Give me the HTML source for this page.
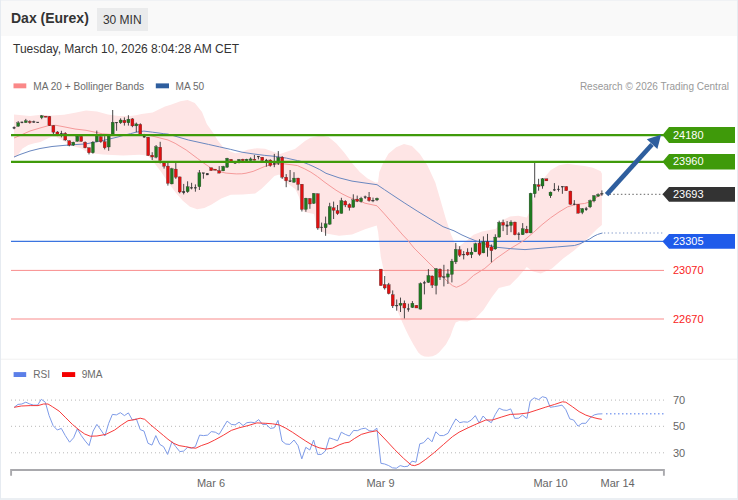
<!DOCTYPE html>
<html><head><meta charset="utf-8"><title>Dax (Eurex)</title>
<style>
html,body{margin:0;padding:0;background:#fff;}
body{width:738px;height:500px;overflow:hidden;position:relative;font-family:"Liberation Sans",sans-serif;}
#frame{position:absolute;left:0;top:0;width:738px;height:500px;box-sizing:border-box;border-left:1px solid #e6ebf1;border-right:1px solid #e6ebf1;border-bottom:2px solid #ebeff3;}
#hdr{position:absolute;left:0;top:0;width:738px;height:36px;background:#f9f9f9;box-sizing:border-box;border-top:1px solid #f0f2f5;}
#title{position:absolute;left:11px;top:10.4px;font-size:14px;font-weight:bold;color:#333;white-space:nowrap;}
#badge{position:absolute;left:97px;top:7.5px;width:50.5px;height:23px;background:#eaebec;color:#333;font-size:12px;line-height:24px;text-align:center;}
#date{position:absolute;left:13px;top:42px;font-size:12px;color:#333;white-space:nowrap;}
svg{position:absolute;left:0;top:0;}
text{font-family:"Liberation Sans",sans-serif;}
</style></head><body>
<div id="hdr"></div>
<div id="frame"></div>
<div id="title">Dax (Eurex)</div>
<div id="badge">30 MIN</div>
<div id="date">Tuesday, March 10, 2026 8:04:28 AM CET</div>
<svg width="738" height="500" viewBox="0 0 738 500">

<rect x="13.5" y="83.4" width="12.8" height="4.9" fill="#fa8888"/>
<text x="33.3" y="90" font-size="10.1" fill="#6b6b6b">MA 20 + Bollinger Bands</text>
<rect x="155.8" y="83.4" width="13.2" height="4.9" fill="#2e5e9e"/>
<text x="175.6" y="90" font-size="10.1" fill="#6b6b6b">MA 50</text>
<text x="729" y="90" font-size="10" fill="#999" text-anchor="end">Research © 2026 Trading Central</text>
<polygon points="14.0,114.4 30.0,116.0 41.0,114.8 52.0,115.5 64.0,114.8 75.0,112.8 86.0,110.6 97.0,111.4 108.0,114.4 119.0,116.1 130.0,116.1 136.0,115.2 141.5,113.9 152.7,112.6 158.8,109.6 165.0,106.5 170.8,104.8 180.4,101.2 187.6,100.0 194.8,102.9 202.0,112.0 206.8,124.0 213.6,133.6 217.6,140.3 223.0,147.1 229.8,151.2 235.2,153.2 240.7,152.5 247.4,149.8 256.9,148.2 265.0,148.7 273.2,151.8 280.0,153.9 286.7,151.8 294.9,149.1 300.0,145.0 305.0,141.0 310.4,137.7 320.8,135.6 328.6,136.9 336.4,143.4 344.2,152.5 352.0,162.9 359.8,172.0 367.6,178.5 375.4,182.4 378.0,182.4 379.3,172.0 383.2,162.9 388.4,153.8 396.2,147.3 404.0,143.9 411.9,146.0 419.7,153.8 427.5,165.5 435.3,182.4 440.0,198.4 445.6,218.0 451.2,234.8 455.4,244.6 459.6,246.0 465.2,241.8 473.6,234.8 482.0,231.5 496.0,228.7 501.6,220.8 510.0,216.6 518.4,215.8 526.8,217.5 529.5,212.0 533.5,197.5 542.0,180.5 550.5,170.3 559.0,165.2 567.5,163.8 576.0,164.9 584.5,166.1 593.0,167.8 600.7,171.2 601.9,173.7 601.9,225.0 596.8,229.2 585.6,240.4 574.4,250.2 563.2,258.6 552.0,268.4 540.8,273.5 532.4,271.2 526.8,267.0 518.4,276.8 510.0,285.2 498.8,288.0 491.6,297.6 483.5,310.0 475.4,318.5 467.3,321.5 459.2,321.0 455.7,322.4 453.3,328.1 450.4,336.3 445.9,344.4 439.0,352.5 436.0,354.8 432.5,356.3 428.5,356.8 424.4,356.5 421.0,355.0 418.3,352.5 413.4,344.4 408.9,336.3 405.6,329.5 402.4,322.4 394.3,303.0 386.2,281.4 380.8,257.0 378.1,232.0 376.7,225.4 365.0,229.3 352.0,234.5 339.0,235.8 326.0,233.5 320.9,231.0 316.5,226.0 314.0,214.0 309.0,213.0 304.0,212.0 301.5,207.0 299.0,197.0 295.3,189.0 288.9,184.5 284.0,180.8 281.6,176.8 279.2,174.4 274.4,176.0 268.0,182.4 261.6,188.8 255.2,193.6 242.8,194.4 230.8,194.8 221.2,198.4 211.6,204.4 204.4,208.0 197.2,209.2 190.0,206.8 182.8,200.8 175.6,192.4 168.4,182.8 161.2,172.0 154.0,162.4 147.5,155.6 139.4,154.8 123.0,155.6 102.5,154.6 92.0,153.3 86.0,151.3 81.0,148.3 76.0,147.0 70.0,145.0 66.0,142.5 60.0,139.0 56.0,137.0 51.5,136.8 46.6,139.0 40.5,142.0 34.4,143.2 28.3,145.0 22.2,148.7 17.3,156.0 14.0,158.0" fill="#fee5e5"/>
<line x1="11" y1="270.4" x2="664" y2="270.4" stroke="#f98c8c" stroke-width="1"/>
<line x1="11" y1="319" x2="664" y2="319" stroke="#f98c8c" stroke-width="1.2"/>
<line x1="11" y1="241.4" x2="664" y2="241.4" stroke="#3b74e0" stroke-width="1.1"/>
<polyline points="14.0,138.0 20.0,135.5 30.0,131.0 40.0,128.0 49.0,125.5 56.0,125.3 65.0,127.0 75.0,129.0 86.0,130.3 97.0,132.6 102.7,133.9 120.0,135.0 150.0,135.5 154.9,136.7 168.0,140.0 175.1,143.3 186.2,150.0 197.3,158.3 204.0,163.3 210.7,167.8 219.6,171.7 226.2,173.1 236.2,173.9 241.8,173.8 246.0,173.2 253.1,171.4 264.2,166.7 269.8,165.0 277.0,164.0 284.2,163.9 292.0,164.8 297.6,165.6 300.0,166.8 304.2,168.6 310.9,172.2 317.6,176.7 324.0,181.7 330.0,186.0 336.0,190.2 342.0,193.8 348.0,196.8 354.0,199.2 360.0,201.0 365.0,203.2 377.0,205.8 384.4,213.9 395.6,226.7 402.8,235.0 407.6,240.0 414.0,248.0 422.0,256.0 430.0,264.0 438.0,272.0 446.0,280.0 452.4,285.6 456.4,287.3 460.4,285.6 466.0,282.4 473.6,275.4 484.8,268.4 496.0,258.6 510.0,248.8 524.0,240.4 533.5,232.4 542.0,224.7 550.5,217.9 559.0,212.0 567.5,206.9 576.0,204.3 584.5,203.5 593.0,200.9 597.0,197.0 601.9,194.5" fill="none" stroke="#f59a9a" stroke-width="1"/>
<polyline points="14.0,157.0 20.0,154.5 30.0,151.0 40.0,148.5 52.0,146.5 65.0,145.3 75.0,144.6 86.0,143.9 97.0,141.7 108.0,139.4 119.0,136.7 124.9,135.0 130.4,133.7 136.0,132.2 141.6,131.4 143.8,131.1 152.7,132.2 163.8,133.7 168.0,134.1 178.0,137.0 188.4,140.0 208.4,144.4 219.6,146.9 230.7,149.4 242.0,152.2 253.1,153.9 264.2,155.3 275.3,156.4 286.4,158.1 297.6,160.6 300.0,161.1 308.7,164.4 313.0,166.3 319.8,169.6 326.0,173.3 339.0,177.8 352.0,181.1 365.0,183.0 377.0,184.7 384.4,189.6 391.1,194.1 404.1,202.7 417.1,211.0 430.1,218.9 443.1,226.7 454.0,230.8 462.0,235.0 469.0,238.1 476.0,240.9 482.0,243.0 490.0,245.5 497.0,247.3 511.0,248.7 525.0,249.6 538.0,248.5 557.6,246.9 574.4,245.5 580.0,243.8 585.6,241.0 589.6,239.0 594.0,236.2 597.5,234.5 601.0,233.4 602.5,233.0" fill="none" stroke="#6a88c0" stroke-width="1"/>
<line x1="14.1" y1="126.4" x2="14.1" y2="129.2" stroke="#333" stroke-width="0.9"/>
<rect x="12.90" y="127.3" width="2.4" height="1.0" fill="#333" stroke="#333" stroke-width="0.3"/>
<line x1="18.2" y1="121.1" x2="18.2" y2="126.7" stroke="#333" stroke-width="0.9"/>
<rect x="16.70" y="122.8" width="3.0" height="3.5" fill="#1f7a1f" stroke="#333" stroke-width="0.3"/>
<line x1="22.0" y1="121.4" x2="22.0" y2="123.3" stroke="#333" stroke-width="0.9"/>
<rect x="20.80" y="122.0" width="2.4" height="0.8" fill="#333" stroke="#333" stroke-width="0.3"/>
<line x1="25.8" y1="118.9" x2="25.8" y2="122.8" stroke="#333" stroke-width="0.9"/>
<rect x="24.30" y="120.8" width="3.0" height="1.8" fill="#1f7a1f" stroke="#333" stroke-width="0.3"/>
<line x1="29.8" y1="120.3" x2="29.8" y2="123.7" stroke="#333" stroke-width="0.9"/>
<rect x="28.30" y="121.4" width="3.0" height="1.2" fill="#e01010" stroke="#333" stroke-width="0.3"/>
<line x1="33.8" y1="120.6" x2="33.8" y2="122.8" stroke="#333" stroke-width="0.9"/>
<rect x="32.60" y="121.6" width="2.4" height="0.8" fill="#333" stroke="#333" stroke-width="0.3"/>
<line x1="37.7" y1="122.0" x2="37.7" y2="122.8" stroke="#333" stroke-width="0.9"/>
<rect x="36.50" y="122.0" width="2.4" height="0.8" fill="#333" stroke="#333" stroke-width="0.3"/>
<line x1="41.7" y1="115.0" x2="41.7" y2="119.2" stroke="#333" stroke-width="0.9"/>
<rect x="40.20" y="115.8" width="3.0" height="1.8" fill="#1f7a1f" stroke="#333" stroke-width="0.3"/>
<line x1="45.6" y1="116.1" x2="45.6" y2="117.2" stroke="#333" stroke-width="0.9"/>
<rect x="44.10" y="116.1" width="3.0" height="1.1" fill="#e01010" stroke="#333" stroke-width="0.3"/>
<line x1="49.4" y1="116.0" x2="49.4" y2="126.0" stroke="#333" stroke-width="0.9"/>
<rect x="47.90" y="116.4" width="3.0" height="9.2" fill="#e01010" stroke="#333" stroke-width="0.3"/>
<line x1="53.4" y1="125.2" x2="53.4" y2="134.1" stroke="#333" stroke-width="0.9"/>
<rect x="51.90" y="125.6" width="3.0" height="6.6" fill="#e01010" stroke="#333" stroke-width="0.3"/>
<line x1="57.4" y1="131.1" x2="57.4" y2="136.1" stroke="#333" stroke-width="0.9"/>
<rect x="55.90" y="132.0" width="3.0" height="2.1" fill="#e01010" stroke="#333" stroke-width="0.3"/>
<line x1="61.4" y1="130.8" x2="61.4" y2="137.4" stroke="#333" stroke-width="0.9"/>
<rect x="60.20" y="133.3" width="2.4" height="1.5" fill="#333" stroke="#333" stroke-width="0.3"/>
<line x1="65.3" y1="132.2" x2="65.3" y2="140.8" stroke="#333" stroke-width="0.9"/>
<rect x="63.80" y="133.3" width="3.0" height="6.7" fill="#e01010" stroke="#333" stroke-width="0.3"/>
<line x1="69.3" y1="140.3" x2="69.3" y2="146.3" stroke="#333" stroke-width="0.9"/>
<rect x="67.80" y="140.8" width="3.0" height="4.4" fill="#e01010" stroke="#333" stroke-width="0.3"/>
<line x1="73.3" y1="141.7" x2="73.3" y2="145.9" stroke="#333" stroke-width="0.9"/>
<rect x="71.80" y="142.2" width="3.0" height="3.0" fill="#1f7a1f" stroke="#333" stroke-width="0.3"/>
<line x1="77.3" y1="136.1" x2="77.3" y2="141.6" stroke="#333" stroke-width="0.9"/>
<rect x="75.80" y="136.1" width="3.0" height="5.3" fill="#1f7a1f" stroke="#333" stroke-width="0.3"/>
<line x1="81.2" y1="136.0" x2="81.2" y2="141.6" stroke="#333" stroke-width="0.9"/>
<rect x="79.70" y="136.3" width="3.0" height="5.1" fill="#e01010" stroke="#333" stroke-width="0.3"/>
<line x1="85.1" y1="141.4" x2="85.1" y2="148.3" stroke="#333" stroke-width="0.9"/>
<rect x="83.60" y="142.2" width="3.0" height="5.6" fill="#e01010" stroke="#333" stroke-width="0.3"/>
<line x1="89.0" y1="147.4" x2="89.0" y2="154.4" stroke="#333" stroke-width="0.9"/>
<rect x="87.50" y="147.8" width="3.0" height="5.0" fill="#e01010" stroke="#333" stroke-width="0.3"/>
<line x1="92.9" y1="141.1" x2="92.9" y2="153.7" stroke="#333" stroke-width="0.9"/>
<rect x="91.40" y="142.2" width="3.0" height="10.6" fill="#1f7a1f" stroke="#333" stroke-width="0.3"/>
<line x1="96.8" y1="130.6" x2="96.8" y2="142.2" stroke="#333" stroke-width="0.9"/>
<rect x="95.30" y="136.1" width="3.0" height="5.6" fill="#1f7a1f" stroke="#333" stroke-width="0.3"/>
<line x1="100.8" y1="136.1" x2="100.8" y2="142.8" stroke="#333" stroke-width="0.9"/>
<rect x="99.30" y="136.7" width="3.0" height="5.0" fill="#e01010" stroke="#333" stroke-width="0.3"/>
<line x1="104.7" y1="136.1" x2="104.7" y2="149.4" stroke="#333" stroke-width="0.9"/>
<rect x="103.20" y="141.7" width="3.0" height="6.1" fill="#e01010" stroke="#333" stroke-width="0.3"/>
<line x1="108.7" y1="135.6" x2="108.7" y2="150.8" stroke="#333" stroke-width="0.9"/>
<rect x="107.20" y="136.1" width="3.0" height="10.9" fill="#1f7a1f" stroke="#333" stroke-width="0.3"/>
<line x1="112.7" y1="110.0" x2="112.7" y2="134.1" stroke="#333" stroke-width="0.9"/>
<rect x="111.20" y="122.2" width="3.0" height="11.9" fill="#1f7a1f" stroke="#333" stroke-width="0.3"/>
<line x1="116.6" y1="122.2" x2="116.6" y2="130.8" stroke="#333" stroke-width="0.9"/>
<rect x="115.40" y="122.2" width="2.4" height="0.8" fill="#333" stroke="#333" stroke-width="0.3"/>
<line x1="120.6" y1="118.3" x2="120.6" y2="123.9" stroke="#333" stroke-width="0.9"/>
<rect x="119.10" y="120.0" width="3.0" height="2.8" fill="#1f7a1f" stroke="#333" stroke-width="0.3"/>
<line x1="124.4" y1="117.4" x2="124.4" y2="125.6" stroke="#333" stroke-width="0.9"/>
<rect x="122.90" y="120.3" width="3.0" height="2.5" fill="#e01010" stroke="#333" stroke-width="0.3"/>
<line x1="128.4" y1="115.2" x2="128.4" y2="125.6" stroke="#333" stroke-width="0.9"/>
<rect x="126.90" y="119.2" width="3.0" height="3.6" fill="#1f7a1f" stroke="#333" stroke-width="0.3"/>
<line x1="132.4" y1="118.1" x2="132.4" y2="127.2" stroke="#333" stroke-width="0.9"/>
<rect x="130.90" y="118.9" width="3.0" height="7.0" fill="#e01010" stroke="#333" stroke-width="0.3"/>
<line x1="136.3" y1="122.6" x2="136.3" y2="132.2" stroke="#333" stroke-width="0.9"/>
<rect x="134.80" y="123.9" width="3.0" height="2.0" fill="#1f7a1f" stroke="#333" stroke-width="0.3"/>
<line x1="140.3" y1="123.3" x2="140.3" y2="135.0" stroke="#333" stroke-width="0.9"/>
<rect x="138.80" y="124.4" width="3.0" height="9.7" fill="#e01010" stroke="#333" stroke-width="0.3"/>
<line x1="144.2" y1="133.9" x2="144.2" y2="137.8" stroke="#333" stroke-width="0.9"/>
<rect x="143.00" y="136.0" width="2.4" height="1.2" fill="#333" stroke="#333" stroke-width="0.3"/>
<line x1="148.2" y1="137.0" x2="148.2" y2="155.8" stroke="#333" stroke-width="0.9"/>
<rect x="146.70" y="137.2" width="3.0" height="18.4" fill="#e01010" stroke="#333" stroke-width="0.3"/>
<line x1="152.2" y1="152.2" x2="152.2" y2="160.0" stroke="#333" stroke-width="0.9"/>
<rect x="150.70" y="155.2" width="3.0" height="1.8" fill="#e01010" stroke="#333" stroke-width="0.3"/>
<line x1="156.1" y1="145.0" x2="156.1" y2="158.3" stroke="#333" stroke-width="0.9"/>
<rect x="154.60" y="146.7" width="3.0" height="10.5" fill="#1f7a1f" stroke="#333" stroke-width="0.3"/>
<line x1="160.2" y1="141.8" x2="160.2" y2="163.4" stroke="#333" stroke-width="0.9"/>
<rect x="158.70" y="147.2" width="3.0" height="13.3" fill="#e01010" stroke="#333" stroke-width="0.3"/>
<line x1="164.1" y1="161.3" x2="164.1" y2="168.6" stroke="#333" stroke-width="0.9"/>
<rect x="162.60" y="163.0" width="3.0" height="3.2" fill="#e01010" stroke="#333" stroke-width="0.3"/>
<line x1="167.9" y1="162.8" x2="167.9" y2="185.6" stroke="#333" stroke-width="0.9"/>
<rect x="166.40" y="166.1" width="3.0" height="17.2" fill="#e01010" stroke="#333" stroke-width="0.3"/>
<line x1="171.8" y1="167.8" x2="171.8" y2="184.4" stroke="#333" stroke-width="0.9"/>
<rect x="170.30" y="168.7" width="3.0" height="15.2" fill="#1f7a1f" stroke="#333" stroke-width="0.3"/>
<line x1="175.8" y1="162.8" x2="175.8" y2="178.9" stroke="#333" stroke-width="0.9"/>
<rect x="174.30" y="169.1" width="3.0" height="8.1" fill="#e01010" stroke="#333" stroke-width="0.3"/>
<line x1="179.7" y1="176.7" x2="179.7" y2="193.3" stroke="#333" stroke-width="0.9"/>
<rect x="178.20" y="176.9" width="3.0" height="15.1" fill="#e01010" stroke="#333" stroke-width="0.3"/>
<line x1="183.7" y1="183.9" x2="183.7" y2="194.4" stroke="#333" stroke-width="0.9"/>
<rect x="182.50" y="191.3" width="2.4" height="1.5" fill="#333" stroke="#333" stroke-width="0.3"/>
<line x1="187.6" y1="181.3" x2="187.6" y2="192.8" stroke="#333" stroke-width="0.9"/>
<rect x="186.10" y="186.7" width="3.0" height="5.0" fill="#1f7a1f" stroke="#333" stroke-width="0.3"/>
<line x1="191.6" y1="182.8" x2="191.6" y2="189.4" stroke="#333" stroke-width="0.9"/>
<rect x="190.40" y="187.4" width="2.4" height="0.8" fill="#333" stroke="#333" stroke-width="0.3"/>
<line x1="195.4" y1="184.4" x2="195.4" y2="191.7" stroke="#333" stroke-width="0.9"/>
<rect x="194.20" y="187.4" width="2.4" height="0.8" fill="#333" stroke="#333" stroke-width="0.3"/>
<line x1="199.4" y1="170.0" x2="199.4" y2="190.0" stroke="#333" stroke-width="0.9"/>
<rect x="197.90" y="172.8" width="3.0" height="13.9" fill="#1f7a1f" stroke="#333" stroke-width="0.3"/>
<line x1="203.4" y1="172.8" x2="203.4" y2="178.7" stroke="#333" stroke-width="0.9"/>
<rect x="202.20" y="172.8" width="2.4" height="0.8" fill="#333" stroke="#333" stroke-width="0.3"/>
<line x1="207.3" y1="173.3" x2="207.3" y2="175.0" stroke="#333" stroke-width="0.9"/>
<rect x="206.10" y="173.3" width="2.4" height="1.7" fill="#333" stroke="#333" stroke-width="0.3"/>
<line x1="211.2" y1="167.8" x2="211.2" y2="170.6" stroke="#333" stroke-width="0.9"/>
<rect x="209.70" y="167.8" width="3.0" height="2.8" fill="#e01010" stroke="#333" stroke-width="0.3"/>
<line x1="215.1" y1="169.1" x2="215.1" y2="170.2" stroke="#333" stroke-width="0.9"/>
<rect x="213.60" y="169.1" width="3.0" height="1.1" fill="#e01010" stroke="#333" stroke-width="0.3"/>
<line x1="219.2" y1="166.1" x2="219.2" y2="173.3" stroke="#333" stroke-width="0.9"/>
<rect x="217.70" y="170.6" width="3.0" height="2.5" fill="#e01010" stroke="#333" stroke-width="0.3"/>
<line x1="223.2" y1="165.8" x2="223.2" y2="171.1" stroke="#333" stroke-width="0.9"/>
<rect x="221.70" y="166.4" width="3.0" height="4.5" fill="#1f7a1f" stroke="#333" stroke-width="0.3"/>
<line x1="227.1" y1="157.8" x2="227.1" y2="167.8" stroke="#333" stroke-width="0.9"/>
<rect x="225.60" y="158.3" width="3.0" height="8.9" fill="#1f7a1f" stroke="#333" stroke-width="0.3"/>
<line x1="231.1" y1="159.0" x2="231.1" y2="161.8" stroke="#333" stroke-width="0.9"/>
<rect x="229.60" y="159.4" width="3.0" height="2.1" fill="#e01010" stroke="#333" stroke-width="0.3"/>
<line x1="235.1" y1="161.0" x2="235.1" y2="163.6" stroke="#333" stroke-width="0.9"/>
<rect x="233.90" y="162.0" width="2.4" height="1.4" fill="#333" stroke="#333" stroke-width="0.3"/>
<line x1="239.0" y1="159.0" x2="239.0" y2="163.3" stroke="#333" stroke-width="0.9"/>
<rect x="237.50" y="159.5" width="3.0" height="1.5" fill="#1f7a1f" stroke="#333" stroke-width="0.3"/>
<line x1="242.8" y1="158.8" x2="242.8" y2="161.2" stroke="#333" stroke-width="0.9"/>
<rect x="241.30" y="159.2" width="3.0" height="1.6" fill="#e01010" stroke="#333" stroke-width="0.3"/>
<line x1="246.6" y1="158.8" x2="246.6" y2="161.0" stroke="#333" stroke-width="0.9"/>
<rect x="245.10" y="159.2" width="3.0" height="1.6" fill="#1f7a1f" stroke="#333" stroke-width="0.3"/>
<line x1="250.6" y1="157.4" x2="250.6" y2="160.8" stroke="#333" stroke-width="0.9"/>
<rect x="249.10" y="158.9" width="3.0" height="1.7" fill="#1f7a1f" stroke="#333" stroke-width="0.3"/>
<line x1="254.4" y1="155.0" x2="254.4" y2="160.4" stroke="#333" stroke-width="0.9"/>
<rect x="252.90" y="159.2" width="3.0" height="1.0" fill="#e01010" stroke="#333" stroke-width="0.3"/>
<line x1="258.4" y1="156.1" x2="258.4" y2="159.4" stroke="#333" stroke-width="0.9"/>
<rect x="257.20" y="156.1" width="2.4" height="0.9" fill="#333" stroke="#333" stroke-width="0.3"/>
<line x1="262.3" y1="157.0" x2="262.3" y2="160.8" stroke="#333" stroke-width="0.9"/>
<rect x="260.80" y="157.2" width="3.0" height="3.4" fill="#e01010" stroke="#333" stroke-width="0.3"/>
<line x1="266.4" y1="158.9" x2="266.4" y2="166.7" stroke="#333" stroke-width="0.9"/>
<rect x="265.20" y="160.0" width="2.4" height="1.0" fill="#333" stroke="#333" stroke-width="0.3"/>
<line x1="270.3" y1="159.4" x2="270.3" y2="166.7" stroke="#333" stroke-width="0.9"/>
<rect x="268.80" y="160.0" width="3.0" height="5.5" fill="#e01010" stroke="#333" stroke-width="0.3"/>
<line x1="274.3" y1="153.9" x2="274.3" y2="167.2" stroke="#333" stroke-width="0.9"/>
<rect x="273.10" y="163.3" width="2.4" height="1.1" fill="#333" stroke="#333" stroke-width="0.3"/>
<line x1="278.3" y1="151.1" x2="278.3" y2="165.0" stroke="#333" stroke-width="0.9"/>
<rect x="276.80" y="157.4" width="3.0" height="5.9" fill="#1f7a1f" stroke="#333" stroke-width="0.3"/>
<line x1="282.2" y1="156.1" x2="282.2" y2="178.9" stroke="#333" stroke-width="0.9"/>
<rect x="280.70" y="157.2" width="3.0" height="20.0" fill="#e01010" stroke="#333" stroke-width="0.3"/>
<line x1="286.2" y1="174.1" x2="286.2" y2="187.2" stroke="#333" stroke-width="0.9"/>
<rect x="284.70" y="177.2" width="3.0" height="3.6" fill="#e01010" stroke="#333" stroke-width="0.3"/>
<line x1="290.1" y1="170.0" x2="290.1" y2="181.7" stroke="#333" stroke-width="0.9"/>
<rect x="288.90" y="180.8" width="2.4" height="0.9" fill="#333" stroke="#333" stroke-width="0.3"/>
<line x1="294.0" y1="172.2" x2="294.0" y2="182.8" stroke="#333" stroke-width="0.9"/>
<rect x="292.50" y="178.1" width="3.0" height="4.1" fill="#1f7a1f" stroke="#333" stroke-width="0.3"/>
<line x1="298.1" y1="177.8" x2="298.1" y2="190.4" stroke="#333" stroke-width="0.9"/>
<rect x="296.60" y="178.1" width="3.0" height="6.3" fill="#e01010" stroke="#333" stroke-width="0.3"/>
<line x1="301.9" y1="184.0" x2="301.9" y2="211.5" stroke="#333" stroke-width="0.9"/>
<rect x="300.40" y="184.2" width="3.0" height="25.2" fill="#e01010" stroke="#333" stroke-width="0.3"/>
<line x1="305.9" y1="197.8" x2="305.9" y2="211.8" stroke="#333" stroke-width="0.9"/>
<rect x="304.40" y="198.2" width="3.0" height="11.2" fill="#1f7a1f" stroke="#333" stroke-width="0.3"/>
<line x1="309.9" y1="198.0" x2="309.9" y2="208.8" stroke="#333" stroke-width="0.9"/>
<rect x="308.40" y="198.6" width="3.0" height="5.4" fill="#e01010" stroke="#333" stroke-width="0.3"/>
<line x1="313.8" y1="193.0" x2="313.8" y2="204.0" stroke="#333" stroke-width="0.9"/>
<rect x="312.30" y="193.4" width="3.0" height="10.0" fill="#1f7a1f" stroke="#333" stroke-width="0.3"/>
<line x1="317.8" y1="193.4" x2="317.8" y2="229.8" stroke="#333" stroke-width="0.9"/>
<rect x="316.30" y="193.8" width="3.0" height="34.2" fill="#e01010" stroke="#333" stroke-width="0.3"/>
<line x1="321.6" y1="222.6" x2="321.6" y2="231.9" stroke="#333" stroke-width="0.9"/>
<rect x="320.40" y="227.0" width="2.4" height="0.8" fill="#333" stroke="#333" stroke-width="0.3"/>
<line x1="325.6" y1="216.6" x2="325.6" y2="235.8" stroke="#333" stroke-width="0.9"/>
<rect x="324.10" y="223.8" width="3.0" height="4.0" fill="#1f7a1f" stroke="#333" stroke-width="0.3"/>
<line x1="329.7" y1="202.8" x2="329.7" y2="224.7" stroke="#333" stroke-width="0.9"/>
<rect x="328.20" y="206.6" width="3.0" height="17.6" fill="#1f7a1f" stroke="#333" stroke-width="0.3"/>
<line x1="333.6" y1="201.6" x2="333.6" y2="219.0" stroke="#333" stroke-width="0.9"/>
<rect x="332.10" y="207.8" width="3.0" height="2.5" fill="#e01010" stroke="#333" stroke-width="0.3"/>
<line x1="337.5" y1="205.0" x2="337.5" y2="214.8" stroke="#333" stroke-width="0.9"/>
<rect x="336.00" y="210.6" width="3.0" height="3.0" fill="#e01010" stroke="#333" stroke-width="0.3"/>
<line x1="341.4" y1="197.8" x2="341.4" y2="213.6" stroke="#333" stroke-width="0.9"/>
<rect x="339.90" y="200.6" width="3.0" height="12.8" fill="#1f7a1f" stroke="#333" stroke-width="0.3"/>
<line x1="345.3" y1="200.2" x2="345.3" y2="207.1" stroke="#333" stroke-width="0.9"/>
<rect x="343.80" y="201.2" width="3.0" height="3.8" fill="#e01010" stroke="#333" stroke-width="0.3"/>
<line x1="349.4" y1="203.3" x2="349.4" y2="210.6" stroke="#333" stroke-width="0.9"/>
<rect x="347.90" y="204.5" width="3.0" height="3.1" fill="#e01010" stroke="#333" stroke-width="0.3"/>
<line x1="353.3" y1="194.3" x2="353.3" y2="207.6" stroke="#333" stroke-width="0.9"/>
<rect x="351.80" y="199.8" width="3.0" height="7.5" fill="#1f7a1f" stroke="#333" stroke-width="0.3"/>
<line x1="357.2" y1="195.6" x2="357.2" y2="202.1" stroke="#333" stroke-width="0.9"/>
<rect x="355.70" y="199.1" width="3.0" height="2.2" fill="#e01010" stroke="#333" stroke-width="0.3"/>
<line x1="361.1" y1="196.8" x2="361.1" y2="202.6" stroke="#333" stroke-width="0.9"/>
<rect x="359.60" y="198.3" width="3.0" height="3.3" fill="#1f7a1f" stroke="#333" stroke-width="0.3"/>
<line x1="365.2" y1="195.6" x2="365.2" y2="198.9" stroke="#333" stroke-width="0.9"/>
<rect x="364.00" y="196.8" width="2.4" height="0.8" fill="#333" stroke="#333" stroke-width="0.3"/>
<line x1="369.1" y1="192.0" x2="369.1" y2="201.7" stroke="#333" stroke-width="0.9"/>
<rect x="367.60" y="197.2" width="3.0" height="3.4" fill="#e01010" stroke="#333" stroke-width="0.3"/>
<line x1="373.0" y1="197.6" x2="373.0" y2="202.2" stroke="#333" stroke-width="0.9"/>
<rect x="371.80" y="200.2" width="2.4" height="0.8" fill="#333" stroke="#333" stroke-width="0.3"/>
<line x1="377.0" y1="197.6" x2="377.0" y2="201.1" stroke="#333" stroke-width="0.9"/>
<rect x="375.50" y="198.3" width="3.0" height="1.7" fill="#1f7a1f" stroke="#333" stroke-width="0.3"/>
<line x1="380.8" y1="269.1" x2="380.8" y2="285.6" stroke="#333" stroke-width="0.9"/>
<rect x="379.30" y="269.1" width="3.0" height="16.5" fill="#e01010" stroke="#333" stroke-width="0.3"/>
<line x1="384.7" y1="276.0" x2="384.7" y2="289.6" stroke="#333" stroke-width="0.9"/>
<rect x="383.20" y="284.5" width="3.0" height="3.5" fill="#e01010" stroke="#333" stroke-width="0.3"/>
<line x1="388.7" y1="282.9" x2="388.7" y2="294.4" stroke="#333" stroke-width="0.9"/>
<rect x="387.20" y="284.8" width="3.0" height="8.8" fill="#e01010" stroke="#333" stroke-width="0.3"/>
<line x1="392.7" y1="290.4" x2="392.7" y2="308.0" stroke="#333" stroke-width="0.9"/>
<rect x="391.20" y="294.7" width="3.0" height="11.2" fill="#e01010" stroke="#333" stroke-width="0.3"/>
<line x1="396.7" y1="299.5" x2="396.7" y2="310.7" stroke="#333" stroke-width="0.9"/>
<rect x="395.50" y="305.2" width="2.4" height="0.8" fill="#333" stroke="#333" stroke-width="0.3"/>
<line x1="400.5" y1="297.6" x2="400.5" y2="312.0" stroke="#333" stroke-width="0.9"/>
<rect x="399.00" y="303.2" width="3.0" height="2.1" fill="#1f7a1f" stroke="#333" stroke-width="0.3"/>
<line x1="404.4" y1="300.5" x2="404.4" y2="318.4" stroke="#333" stroke-width="0.9"/>
<rect x="402.90" y="303.2" width="3.0" height="4.8" fill="#e01010" stroke="#333" stroke-width="0.3"/>
<line x1="408.4" y1="303.7" x2="408.4" y2="311.7" stroke="#333" stroke-width="0.9"/>
<rect x="407.20" y="308.7" width="2.4" height="0.8" fill="#333" stroke="#333" stroke-width="0.3"/>
<line x1="412.4" y1="301.1" x2="412.4" y2="308.0" stroke="#333" stroke-width="0.9"/>
<rect x="410.90" y="303.2" width="3.0" height="4.3" fill="#1f7a1f" stroke="#333" stroke-width="0.3"/>
<line x1="416.4" y1="305.3" x2="416.4" y2="308.0" stroke="#333" stroke-width="0.9"/>
<rect x="414.90" y="305.3" width="3.0" height="2.7" fill="#e01010" stroke="#333" stroke-width="0.3"/>
<line x1="420.4" y1="282.4" x2="420.4" y2="309.6" stroke="#333" stroke-width="0.9"/>
<rect x="418.90" y="283.5" width="3.0" height="25.6" fill="#1f7a1f" stroke="#333" stroke-width="0.3"/>
<line x1="424.4" y1="280.8" x2="424.4" y2="294.4" stroke="#333" stroke-width="0.9"/>
<rect x="423.20" y="282.5" width="2.4" height="0.8" fill="#333" stroke="#333" stroke-width="0.3"/>
<line x1="428.4" y1="269.1" x2="428.4" y2="282.9" stroke="#333" stroke-width="0.9"/>
<rect x="426.90" y="275.5" width="3.0" height="6.9" fill="#1f7a1f" stroke="#333" stroke-width="0.3"/>
<line x1="432.2" y1="275.5" x2="432.2" y2="288.0" stroke="#333" stroke-width="0.9"/>
<rect x="430.70" y="276.0" width="3.0" height="9.1" fill="#e01010" stroke="#333" stroke-width="0.3"/>
<line x1="436.1" y1="268.0" x2="436.1" y2="294.4" stroke="#333" stroke-width="0.9"/>
<rect x="434.60" y="268.8" width="3.0" height="16.8" fill="#1f7a1f" stroke="#333" stroke-width="0.3"/>
<line x1="440.0" y1="268.5" x2="440.0" y2="280.0" stroke="#333" stroke-width="0.9"/>
<rect x="438.50" y="269.1" width="3.0" height="8.0" fill="#e01010" stroke="#333" stroke-width="0.3"/>
<line x1="443.9" y1="264.8" x2="443.9" y2="286.4" stroke="#333" stroke-width="0.9"/>
<rect x="442.70" y="276.7" width="2.4" height="0.8" fill="#333" stroke="#333" stroke-width="0.3"/>
<line x1="447.9" y1="269.1" x2="447.9" y2="284.0" stroke="#333" stroke-width="0.9"/>
<rect x="446.40" y="273.9" width="3.0" height="3.2" fill="#1f7a1f" stroke="#333" stroke-width="0.3"/>
<line x1="451.9" y1="258.9" x2="451.9" y2="282.4" stroke="#333" stroke-width="0.9"/>
<rect x="450.40" y="261.1" width="3.0" height="13.3" fill="#1f7a1f" stroke="#333" stroke-width="0.3"/>
<line x1="455.8" y1="242.9" x2="455.8" y2="264.0" stroke="#333" stroke-width="0.9"/>
<rect x="454.30" y="249.3" width="3.0" height="12.6" fill="#1f7a1f" stroke="#333" stroke-width="0.3"/>
<line x1="459.7" y1="246.2" x2="459.7" y2="257.0" stroke="#333" stroke-width="0.9"/>
<rect x="458.20" y="249.8" width="3.0" height="5.5" fill="#e01010" stroke="#333" stroke-width="0.3"/>
<line x1="463.7" y1="251.1" x2="463.7" y2="259.4" stroke="#333" stroke-width="0.9"/>
<rect x="462.50" y="254.2" width="2.4" height="0.8" fill="#333" stroke="#333" stroke-width="0.3"/>
<line x1="467.6" y1="248.3" x2="467.6" y2="255.7" stroke="#333" stroke-width="0.9"/>
<rect x="466.10" y="252.1" width="3.0" height="2.8" fill="#e01010" stroke="#333" stroke-width="0.3"/>
<line x1="471.5" y1="247.6" x2="471.5" y2="258.1" stroke="#333" stroke-width="0.9"/>
<rect x="470.00" y="252.1" width="3.0" height="2.5" fill="#1f7a1f" stroke="#333" stroke-width="0.3"/>
<line x1="475.4" y1="242.7" x2="475.4" y2="252.1" stroke="#333" stroke-width="0.9"/>
<rect x="473.90" y="243.7" width="3.0" height="8.1" fill="#1f7a1f" stroke="#333" stroke-width="0.3"/>
<line x1="479.5" y1="239.2" x2="479.5" y2="255.7" stroke="#333" stroke-width="0.9"/>
<rect x="478.00" y="243.1" width="3.0" height="11.2" fill="#e01010" stroke="#333" stroke-width="0.3"/>
<line x1="483.4" y1="236.4" x2="483.4" y2="253.2" stroke="#333" stroke-width="0.9"/>
<rect x="481.90" y="241.7" width="3.0" height="11.2" fill="#1f7a1f" stroke="#333" stroke-width="0.3"/>
<line x1="487.5" y1="233.9" x2="487.5" y2="256.7" stroke="#333" stroke-width="0.9"/>
<rect x="486.00" y="241.7" width="3.0" height="5.9" fill="#e01010" stroke="#333" stroke-width="0.3"/>
<line x1="491.4" y1="244.5" x2="491.4" y2="262.3" stroke="#333" stroke-width="0.9"/>
<rect x="489.90" y="246.9" width="3.0" height="3.8" fill="#e01010" stroke="#333" stroke-width="0.3"/>
<line x1="495.3" y1="234.3" x2="495.3" y2="249.7" stroke="#333" stroke-width="0.9"/>
<rect x="493.80" y="237.1" width="3.0" height="11.9" fill="#1f7a1f" stroke="#333" stroke-width="0.3"/>
<line x1="499.2" y1="220.7" x2="499.2" y2="237.5" stroke="#333" stroke-width="0.9"/>
<rect x="497.70" y="222.4" width="3.0" height="14.7" fill="#1f7a1f" stroke="#333" stroke-width="0.3"/>
<line x1="503.1" y1="219.6" x2="503.1" y2="231.1" stroke="#333" stroke-width="0.9"/>
<rect x="501.60" y="222.4" width="3.0" height="2.8" fill="#e01010" stroke="#333" stroke-width="0.3"/>
<line x1="507.1" y1="221.0" x2="507.1" y2="235.0" stroke="#333" stroke-width="0.9"/>
<rect x="505.90" y="224.9" width="2.4" height="1.4" fill="#333" stroke="#333" stroke-width="0.3"/>
<line x1="511.0" y1="220.3" x2="511.0" y2="232.2" stroke="#333" stroke-width="0.9"/>
<rect x="509.50" y="222.1" width="3.0" height="3.4" fill="#1f7a1f" stroke="#333" stroke-width="0.3"/>
<line x1="514.9" y1="221.7" x2="514.9" y2="235.3" stroke="#333" stroke-width="0.9"/>
<rect x="513.40" y="222.1" width="3.0" height="12.6" fill="#e01010" stroke="#333" stroke-width="0.3"/>
<line x1="518.8" y1="232.2" x2="518.8" y2="239.9" stroke="#333" stroke-width="0.9"/>
<rect x="517.60" y="233.9" width="2.4" height="0.8" fill="#333" stroke="#333" stroke-width="0.3"/>
<line x1="522.7" y1="223.1" x2="522.7" y2="235.0" stroke="#333" stroke-width="0.9"/>
<rect x="521.20" y="228.7" width="3.0" height="6.0" fill="#1f7a1f" stroke="#333" stroke-width="0.3"/>
<line x1="526.7" y1="225.9" x2="526.7" y2="233.3" stroke="#333" stroke-width="0.9"/>
<rect x="525.20" y="229.2" width="3.0" height="3.7" fill="#e01010" stroke="#333" stroke-width="0.3"/>
<line x1="530.6" y1="192.8" x2="530.6" y2="233.2" stroke="#333" stroke-width="0.9"/>
<rect x="529.10" y="193.3" width="3.0" height="39.6" fill="#1f7a1f" stroke="#333" stroke-width="0.3"/>
<line x1="534.7" y1="162.7" x2="534.7" y2="197.5" stroke="#333" stroke-width="0.9"/>
<rect x="533.20" y="184.3" width="3.0" height="9.5" fill="#1f7a1f" stroke="#333" stroke-width="0.3"/>
<line x1="538.6" y1="178.8" x2="538.6" y2="190.7" stroke="#333" stroke-width="0.9"/>
<rect x="537.10" y="184.8" width="3.0" height="1.7" fill="#e01010" stroke="#333" stroke-width="0.3"/>
<line x1="542.5" y1="178.0" x2="542.5" y2="188.7" stroke="#333" stroke-width="0.9"/>
<rect x="541.00" y="178.8" width="3.0" height="7.2" fill="#1f7a1f" stroke="#333" stroke-width="0.3"/>
<line x1="546.4" y1="178.8" x2="546.4" y2="180.9" stroke="#333" stroke-width="0.9"/>
<rect x="544.90" y="178.8" width="3.0" height="2.1" fill="#e01010" stroke="#333" stroke-width="0.3"/>
<line x1="550.5" y1="191.6" x2="550.5" y2="197.9" stroke="#333" stroke-width="0.9"/>
<rect x="549.00" y="192.1" width="3.0" height="3.7" fill="#1f7a1f" stroke="#333" stroke-width="0.3"/>
<line x1="554.4" y1="183.1" x2="554.4" y2="191.1" stroke="#333" stroke-width="0.9"/>
<rect x="553.20" y="189.5" width="2.4" height="0.8" fill="#333" stroke="#333" stroke-width="0.3"/>
<line x1="558.5" y1="185.6" x2="558.5" y2="191.6" stroke="#333" stroke-width="0.9"/>
<rect x="557.30" y="189.0" width="2.4" height="0.8" fill="#333" stroke="#333" stroke-width="0.3"/>
<line x1="562.4" y1="186.3" x2="562.4" y2="193.8" stroke="#333" stroke-width="0.9"/>
<rect x="561.20" y="186.3" width="2.4" height="0.8" fill="#333" stroke="#333" stroke-width="0.3"/>
<line x1="566.3" y1="186.3" x2="566.3" y2="190.9" stroke="#333" stroke-width="0.9"/>
<rect x="564.80" y="186.5" width="3.0" height="4.2" fill="#e01010" stroke="#333" stroke-width="0.3"/>
<line x1="570.4" y1="190.8" x2="570.4" y2="204.7" stroke="#333" stroke-width="0.9"/>
<rect x="568.90" y="191.1" width="3.0" height="13.2" fill="#e01010" stroke="#333" stroke-width="0.3"/>
<line x1="574.3" y1="200.1" x2="574.3" y2="205.2" stroke="#333" stroke-width="0.9"/>
<rect x="573.10" y="203.9" width="2.4" height="0.8" fill="#333" stroke="#333" stroke-width="0.3"/>
<line x1="578.2" y1="204.0" x2="578.2" y2="213.4" stroke="#333" stroke-width="0.9"/>
<rect x="576.70" y="204.3" width="3.0" height="8.9" fill="#e01010" stroke="#333" stroke-width="0.3"/>
<line x1="582.3" y1="208.1" x2="582.3" y2="214.2" stroke="#333" stroke-width="0.9"/>
<rect x="580.80" y="208.6" width="3.0" height="3.9" fill="#1f7a1f" stroke="#333" stroke-width="0.3"/>
<line x1="586.2" y1="206.9" x2="586.2" y2="210.8" stroke="#333" stroke-width="0.9"/>
<rect x="585.00" y="208.6" width="2.4" height="1.2" fill="#333" stroke="#333" stroke-width="0.3"/>
<line x1="590.1" y1="199.6" x2="590.1" y2="208.1" stroke="#333" stroke-width="0.9"/>
<rect x="588.60" y="200.6" width="3.0" height="6.3" fill="#1f7a1f" stroke="#333" stroke-width="0.3"/>
<line x1="594.0" y1="195.0" x2="594.0" y2="202.3" stroke="#333" stroke-width="0.9"/>
<rect x="592.50" y="195.8" width="3.0" height="5.1" fill="#1f7a1f" stroke="#333" stroke-width="0.3"/>
<line x1="598.1" y1="193.3" x2="598.1" y2="196.7" stroke="#333" stroke-width="0.9"/>
<rect x="596.60" y="194.5" width="3.0" height="1.7" fill="#1f7a1f" stroke="#333" stroke-width="0.3"/>
<line x1="601.9" y1="190.4" x2="601.9" y2="195.8" stroke="#333" stroke-width="0.9"/>
<rect x="600.70" y="193.4" width="2.4" height="0.8" fill="#333" stroke="#333" stroke-width="0.3"/>
<line x1="11" y1="135.1" x2="664" y2="135.1" stroke="#3f9a0a" stroke-width="2.4"/>
<line x1="11" y1="161.9" x2="664" y2="161.9" stroke="#3f9a0a" stroke-width="2.4"/>
<line x1="609.5" y1="194.3" x2="664" y2="194.3" stroke="#666" stroke-width="1" stroke-dasharray="1.5,2.3"/>
<line x1="604" y1="233" x2="664" y2="233" stroke="#7f97c8" stroke-width="1" stroke-dasharray="1.3,2.5"/>
<line x1="606.6" y1="194.6" x2="652" y2="144.5" stroke="#2e5e9e" stroke-width="4.7"/>
<polygon points="661,134.8 646.8,139.2 657.4,149" fill="#2e5e9e"/>
<polygon points="662.5,135 669,127 735,127 735,143 669,143" fill="#3f9a0a"/>
<text x="673" y="139.0" font-size="11" fill="#fff">24180</text>
<polygon points="662.5,161.8 669,154.10000000000002 735,154.10000000000002 735,169.5 669,169.5" fill="#3f9a0a"/>
<text x="673" y="165.1" font-size="11" fill="#fff">23960</text>
<polygon points="662.5,194.3 669,186.9 735,186.9 735,201.70000000000002 669,201.70000000000002" fill="#333"/>
<text x="673" y="198.3" font-size="11" fill="#fff">23693</text>
<polygon points="662.5,241.4 669,234.1 735,234.1 735,248.70000000000002 669,248.70000000000002" fill="#1f5bea"/>
<text x="673" y="245.4" font-size="11" fill="#fff">23305</text>
<text x="673" y="274" font-size="11" fill="#f91c1c">23070</text>
<text x="673" y="323" font-size="11" fill="#f91c1c">22670</text>
<line x1="1" y1="359.2" x2="737" y2="359.2" stroke="#f1f1f1" stroke-width="1"/>
<rect x="13.6" y="372.1" width="12.6" height="4.9" fill="#5b7fe8"/>
<text x="33.3" y="378.3" font-size="10.1" fill="#6b6b6b">RSI</text>
<rect x="62" y="372.1" width="13.2" height="4.9" fill="#f40000"/>
<text x="81.7" y="378.3" font-size="10.1" fill="#6b6b6b">9MA</text>
<line x1="11" y1="400.1" x2="664" y2="400.1" stroke="#b8b8b8" stroke-width="1" stroke-dasharray="1,3"/>
<line x1="11" y1="426.3" x2="664" y2="426.3" stroke="#b8b8b8" stroke-width="1" stroke-dasharray="1,3"/>
<line x1="11" y1="452.8" x2="664" y2="452.8" stroke="#b8b8b8" stroke-width="1" stroke-dasharray="1,3"/>
<text x="673" y="404" font-size="11" fill="#666">70</text>
<text x="673" y="430" font-size="11" fill="#666">50</text>
<text x="673" y="457" font-size="11" fill="#666">30</text>
<polyline points="14.2,407.3 18.0,404.4 21.8,404.0 25.8,402.2 29.8,404.0 33.6,405.1 37.6,405.1 41.3,399.3 45.3,402.2 49.1,415.6 53.1,425.6 57.3,430.0 61.3,428.4 65.3,435.6 69.6,442.2 73.6,437.8 77.3,428.9 81.3,435.6 85.3,441.1 89.1,445.6 93.1,431.1 96.9,424.4 100.9,430.0 104.9,436.0 108.7,423.3 112.4,414.4 116.4,414.9 120.4,412.7 124.4,415.6 128.4,412.9 132.4,420.0 136.4,418.9 140.2,429.6 144.0,431.1 148.0,443.3 152.0,445.1 155.8,435.6 159.8,444.4 163.6,446.7 167.6,454.4 172.0,441.6 175.8,446.7 179.8,451.6 183.6,451.1 187.6,447.3 191.3,448.2 195.3,446.7 199.6,435.1 203.6,435.6 207.6,435.1 211.3,431.6 215.3,432.2 219.1,434.4 223.1,427.8 227.1,421.1 231.3,424.4 235.1,424.9 239.1,422.2 243.1,425.6 246.9,422.7 250.9,422.2 254.7,422.7 258.7,419.6 262.4,424.4 266.4,424.4 270.2,428.4 274.2,427.8 278.0,420.4 282.0,441.1 285.8,444.0 289.8,444.4 294.0,440.0 298.0,445.6 301.8,458.9 305.8,447.3 309.8,450.0 313.6,440.0 317.6,454.4 321.3,454.4 325.3,451.1 329.4,437.8 333.6,439.3 337.6,440.7 341.3,432.2 345.3,434.4 349.3,436.0 353.6,430.4 357.3,430.7 361.3,428.9 365.3,428.2 369.1,430.7 373.1,431.1 376.9,428.2 380.9,463.3 384.7,464.0 388.7,465.6 392.4,467.8 396.4,468.2 400.2,465.6 404.2,466.7 408.0,466.2 412.0,461.1 416.0,462.2 419.8,443.8 423.6,442.7 428.0,437.8 432.0,441.8 435.8,431.8 439.8,435.6 443.6,435.6 448.0,433.3 452.0,425.6 455.8,418.9 459.8,422.7 463.6,421.8 467.6,422.2 471.3,420.0 475.3,415.6 479.1,422.9 483.1,416.0 486.9,420.0 491.3,422.7 495.3,414.4 499.1,408.2 503.1,410.0 506.9,410.4 510.7,408.9 514.7,418.4 518.7,418.2 522.4,415.1 526.9,418.4 530.2,401.1 534.2,397.8 538.7,399.6 542.4,396.7 546.4,397.8 550.2,407.3 554.2,406.7 558.0,406.0 562.0,405.1 565.8,409.6 569.8,418.9 573.6,420.0 578.0,426.2 582.0,423.3 585.8,423.3 590.2,417.8 594.2,414.9 598.0,414.0 602.4,413.8" fill="none" stroke="#7e9be8" stroke-width="1"/>
<line x1="606" y1="413.8" x2="664" y2="413.8" stroke="#8aa6f2" stroke-width="1.6" stroke-dasharray="1.5,2.5"/>
<polyline points="14.2,407.3 21.3,406.0 30.2,405.6 38.0,405.6 43.6,404.0 48.0,404.0 52.4,406.7 59.1,411.1 65.8,417.8 72.4,424.4 79.1,430.0 84.7,434.0 90.2,436.2 96.9,436.0 105.8,434.4 114.7,430.0 121.3,425.1 128.0,420.7 134.7,419.6 140.2,418.2 144.7,419.3 150.2,424.4 156.9,430.0 163.6,435.6 168.0,439.3 173.6,443.3 179.1,445.6 185.8,446.7 191.3,447.8 195.8,448.2 201.3,445.6 208.0,443.3 214.7,440.0 223.6,435.1 231.3,430.4 239.1,427.8 248.0,425.6 256.9,422.9 265.8,423.3 272.4,423.8 279.1,424.9 285.8,428.2 292.4,432.2 299.1,436.7 305.8,441.1 312.4,445.1 319.1,447.8 325.8,449.1 332.4,448.2 339.1,444.9 344.7,442.9 349.1,442.2 354.7,438.4 361.3,434.4 369.1,432.2 376.9,430.7 385.8,440.0 394.7,449.6 403.6,458.4 411.3,465.1 414.7,465.6 419.1,464.0 425.8,459.3 434.7,452.2 443.6,444.4 452.4,436.7 459.1,432.2 468.0,427.8 476.9,423.8 485.8,420.0 492.4,420.0 501.3,417.1 510.2,414.4 519.1,414.0 528.0,412.9 536.9,410.0 545.8,407.1 554.7,404.4 562.4,401.8 565.8,402.2 572.4,406.7 579.1,411.6 585.8,415.1 592.4,417.3 598.0,418.7 601.8,419.3" fill="none" stroke="#f53030" stroke-width="0.95"/>
<path d="M11.1,475.8 V470 H663.9 V475.8" fill="none" stroke="#a9a9ad" stroke-width="1.9"/>
<text x="211" y="487" font-size="11" fill="#666" text-anchor="middle">Mar 6</text>
<text x="380.5" y="487" font-size="11" fill="#666" text-anchor="middle">Mar 9</text>
<text x="550.5" y="487" font-size="11" fill="#666" text-anchor="middle">Mar 10</text>
<text x="617.6" y="487" font-size="11" fill="#666" text-anchor="middle">Mar 14</text>
</svg></body></html>
